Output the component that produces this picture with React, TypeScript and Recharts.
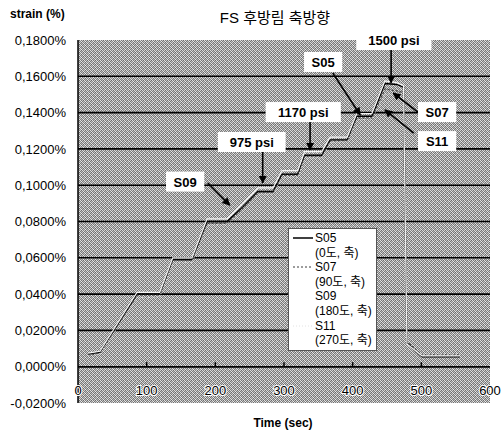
import React from 'react';
import { LineChart, Line, XAxis, YAxis, CartesianGrid, ReferenceLine, ReferenceDot, Legend } from 'recharts';

// time axis (sec) and strain readings (%) per gauge
const times = [15, 32, 86, 119, 138, 166, 188, 217, 240, 262, 284, 297, 320, 330, 355, 367, 392, 406, 428, 447, 464, 474, 479, 501, 556];
const s05 = [0.0070, 0.0080, 0.0400, 0.0400, 0.0590, 0.0590, 0.0800, 0.0800, 0.0880, 0.0965, 0.0965, 0.1060, 0.1060, 0.1165, 0.1165, 0.1250, 0.1250, 0.1380, 0.1380, 0.1560, 0.1555, 0.1540, 0.0130, 0.0055, 0.0055];
const s07 = [0.0065, 0.0075, 0.0395, 0.0395, 0.0585, 0.0585, 0.0790, 0.0790, 0.0875, 0.0960, 0.0960, 0.1055, 0.1055, 0.1160, 0.1160, 0.1245, 0.1245, 0.1370, 0.1370, 0.1530, 0.1520, 0.1510, 0.0140, 0.0065, 0.0065];
const s09 = [0.0075, 0.0085, 0.0410, 0.0410, 0.0600, 0.0600, 0.0815, 0.0815, 0.0900, 0.0985, 0.0985, 0.1080, 0.1080, 0.1185, 0.1185, 0.1265, 0.1265, 0.1395, 0.1395, 0.1575, 0.1565, 0.1550, 0.0125, 0.0060, 0.0060];
const s11 = [0.0060, 0.0070, 0.0380, 0.0385, 0.0570, 0.0575, 0.0780, 0.0785, 0.0860, 0.0950, 0.0950, 0.1045, 0.1045, 0.1150, 0.1150, 0.1235, 0.1240, 0.1360, 0.1365, 0.1500, 0.1505, 0.1500, 0.0150, 0.0070, 0.0070];

const xTicks = [0, 100, 200, 300, 400, 500, 600];
const yTicks = [-0.02, 0, 0.02, 0.04, 0.06, 0.08, 0.1, 0.12, 0.14, 0.16, 0.18];
const gridValues = [0, 0.02, 0.04, 0.06, 0.08, 0.1, 0.12, 0.14, 0.16];

const series = [
  { key: 's05', name: 'S05', sub: '(0도, 축)', color: '#000', width: 1.4, dash: undefined },
  { key: 's07', name: 'S07', sub: '(90도, 축)', color: '#3a3a3a', width: 1.2, dash: '2 2' },
  { key: 's09', name: 'S09', sub: '(180도, 축)', color: '#f4f4f4', width: 1.2, dash: undefined },
  { key: 's11', name: 'S11', sub: '(270도, 축)', color: '#e2e2e2', width: 1, dash: '1 2' },
];

// callouts: label centre (t, v) and arrow from -> to, in data units
const notes = [
  { text: 'S09', t: 156, v: 0.102, from: [189, 0.1012], to: [221, 0.089] },
  { text: '975 psi', t: 253, v: 0.1238, from: [269, 0.1183], to: [269, 0.1012] },
  { text: '1170 psi', t: 328, v: 0.1403, from: [338, 0.1348], to: [338, 0.1194] },
  { text: 'S05', t: 357, v: 0.1679, from: [371, 0.1618], to: [411, 0.1387] },
  { text: '1500 psi', t: 460, v: 0.18, from: [456, 0.1745], to: [456, 0.1564] },
  { text: 'S07', t: 523, v: 0.1403, from: [495, 0.1403], to: [459, 0.1508] },
  { text: 'S11', t: 523, v: 0.1243, from: [489, 0.1287], to: [447, 0.1415] },
];

const data = times.map((t, i) => ({ t, s05: s05[i], s07: s07[i], s09: s09[i], s11: s11[i] }));

const font = '"Liberation Sans", "Noto Sans CJK KR", sans-serif';

const fmtPct = (v: number) => (v < 0 ? '-' : '') + Math.abs(v).toFixed(4).replace('.', ',') + '%';

const XTick = ({ x, y, payload }: any) => (
  <text x={x} y={y - 8} textAnchor="middle" fontSize={13} fontFamily={font} fill="#000" stroke="#fff" strokeWidth={2} paintOrder="stroke">
    {payload.value}
  </text>
);

const NoteBox = ({ cx, cy, text }: any) => {
  const w = text.length * 7.4 + 16;
  return (
    <g>
      <rect x={cx - w / 2} y={cy - 10} width={w} height={20} fill="#fff" />
      <text x={cx} y={cy + 5} textAnchor="middle" fontSize={13} fontWeight="bold" fontFamily={font} fill="#000">
        {text}
      </text>
    </g>
  );
};

const LegendBox = () => (
  <div style={{ background: '#fff', border: '1px solid #555', padding: '2px 4px 2px 4px', fontFamily: font, fontSize: 12, lineHeight: '14.6px', color: '#000' }}>
    {series.map(s => (
      <div key={s.key}>
        <div style={{ display: 'flex', alignItems: 'center' }}>
          <svg width={22} height={10}>
            <line x1={0} y1={5} x2={20} y2={5} stroke={s.key === 's09' ? '#fff' : s.color} strokeWidth={s.key === 's05' ? 1.5 : 1} strokeDasharray={s.dash} />
          </svg>
          <span>{s.name}</span>
        </div>
        <div style={{ paddingLeft: 22 }}>{s.sub}</div>
      </div>
    ))}
  </div>
);

export default function App() {
  return (
    <div style={{ position: 'absolute', left: 0, top: 0, width: 502, height: 434, background: '#fff' }}>
      <svg width={0} height={0} style={{ position: 'absolute' }}>
        <defs>
          <pattern id="dither" width={4} height={4} patternUnits="userSpaceOnUse">
            {[
              ['#e0e0e0', '#7a7a7a', '#c8c8c8', '#6c6c6c'],
              ['#8a8a8a', '#ececec', '#767676', '#bcbcbc'],
              ['#d0d0d0', '#707070', '#dadada', '#858585'],
              ['#7c7c7c', '#b8b8b8', '#808080', '#e6e6e6'],
            ].map((row, r) =>
              row.map((c, k) => <rect key={`${r}-${k}`} x={k} y={r} width={1} height={1} fill={c} shapeRendering="crispEdges" />)
            )}
          </pattern>
          <marker id="arrow" viewBox="0 0 10 10" refX={9} refY={5} markerWidth={5} markerHeight={5} orient="auto">
            <path d="M0,0 L10,5 L0,10 z" fill="#000" />
          </marker>
        </defs>
      </svg>

      <div style={{ position: 'absolute', left: 10, top: 7, fontFamily: font, fontSize: 12, fontWeight: 'bold' }}>strain (%)</div>
      <div style={{ position: 'absolute', left: 0, width: 550, top: 6, textAlign: 'center', fontFamily: font, fontSize: 15 }}>FS 후방림 축방향</div>
      <div style={{ position: 'absolute', left: 0, width: 566, top: 416, textAlign: 'center', fontFamily: font, fontSize: 12, fontWeight: 'bold' }}>Time (sec)</div>

      <LineChart width={502} height={434} data={data} margin={{ top: 40, right: 12, bottom: 0, left: 0 }} style={{ position: 'absolute', left: 0, top: 0 }}>
        <CartesianGrid vertical={false} horizontalValues={gridValues} stroke="#000" strokeWidth={1.6} fill="url(#dither)" fillOpacity={1} />
        <XAxis dataKey="t" type="number" domain={[0, 600]} ticks={xTicks} height={31} axisLine={false} tickLine={false} tickSize={0} tickMargin={0} tick={<XTick />} interval={0} />
        <YAxis type="number" domain={[-0.02, 0.18]} ticks={yTicks} width={78} axisLine={{ stroke: '#000', strokeWidth: 1.5 }} tickLine={false} tickSize={0} tickMargin={12} tickFormatter={fmtPct} tick={{ fontSize: 13, fontFamily: font, fill: '#000' }} interval={0} />
        <ReferenceLine y={0} stroke="#000" strokeWidth={1.6} />
        {xTicks.slice(1, -1).map(t => (
          <ReferenceLine key={`tk${t}`} segment={[{ x: t, y: 0 }, { x: t, y: 0.0025 }]} stroke="#000" strokeWidth={1.5} />
        ))}
        {series.map(s => (
          <Line key={s.key} dataKey={s.key} name={s.name} type="linear" stroke={s.color} strokeWidth={s.width} strokeDasharray={s.dash} dot={false} isAnimationActive={false} />
        ))}
        {notes.map(n => (
          <ReferenceLine
            key={`ar-${n.text}`}
            segment={[{ x: n.from[0], y: n.from[1] }, { x: n.to[0], y: n.to[1] }]}
            ifOverflow="visible"
            shape={(p: any) => <line x1={p.x1} y1={p.y1} x2={p.x2} y2={p.y2} stroke="#000" strokeWidth={1.6} markerEnd="url(#arrow)" />}
          />
        ))}
        {notes.map(n => (
          <ReferenceDot key={`nb-${n.text}`} x={n.t} y={n.v} ifOverflow="visible" shape={(p: any) => <NoteBox cx={p.cx} cy={p.cy} text={n.text} />} />
        ))}
        <Legend layout="vertical" align="center" verticalAlign="middle" content={<LegendBox />} wrapperStyle={{ left: 288, top: 228, width: 89 }} />
      </LineChart>
    </div>
  );
}
